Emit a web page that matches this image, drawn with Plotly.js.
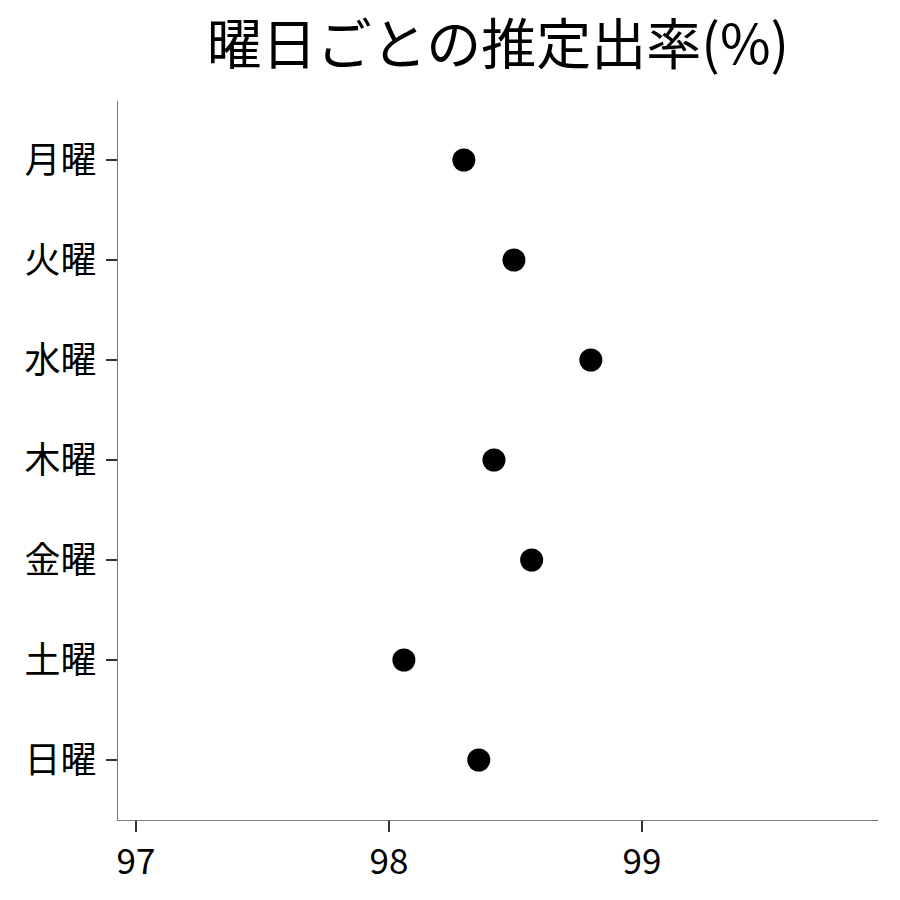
<!DOCTYPE html>
<html>
<head>
<meta charset="utf-8">
<script src="https://cdn.plot.ly/plotly-3.0.1.min.js"></script>
<style>
  html, body { margin: 0; padding: 0; background: #fff; }
  #chart { width: 900px; height: 900px; }
</style>
</head>
<body>
<div id="chart"></div>
<script>
// 曜日ごとの推定出率 (%)
const days = ['月曜', '火曜', '水曜', '木曜', '金曜', '土曜', '日曜'];
const rates = [98.296, 98.494, 98.798, 98.415, 98.564, 98.059, 98.355];
const xTicks = [97, 98, 99];

const fontFamily = '"Noto Sans CJK JP", "Noto Sans", sans-serif';

// 月曜が上に来るように並べる
const dayOrder = days.slice().reverse();

const trace = {
    x: rates,
    y: days,
    type: 'scatter',
    mode: 'markers',
    marker: { size: 23, color: '#000000' },
    hoverinfo: 'x+y'
};

const layout = {
    width: 900,
    height: 900,
    paper_bgcolor: '#ffffff',
    plot_bgcolor: '#ffffff',
    margin: { l: 118, r: 22, t: 101, b: 80 },
    showlegend: false,
    font: { family: fontFamily, color: '#000000' },
    title: {
        text: '曜日ごとの推定出率(%)',
        font: { family: fontFamily, size: 55, color: '#000000' },
        xref: 'paper',
        x: 0.5,
        xanchor: 'center',
        yref: 'container',
        y: 1 - 45 / 900,
        yanchor: 'middle'
    },
    xaxis: {
        range: [96.929, 99.933],
        tickvals: xTicks,
        ticktext: xTicks.map(String),
        showgrid: false,
        zeroline: false,
        showline: true,
        linecolor: '#7a7a7a',
        linewidth: 1.2,
        ticks: 'outside',
        ticklen: 11,
        tickwidth: 2.6,
        tickcolor: '#333333',
        tickfont: { family: fontFamily, size: 35, color: '#000000' }
    },
    yaxis: {
        type: 'category',
        categoryorder: 'array',
        categoryarray: dayOrder,
        range: [-0.6, 6.59],
        showgrid: false,
        zeroline: false,
        showline: true,
        linecolor: '#7a7a7a',
        linewidth: 1.2,
        ticks: 'outside',
        ticklen: 11,
        tickwidth: 2.6,
        tickcolor: '#333333',
        ticklabelstandoff: 2,
        tickfont: { family: fontFamily, size: 36, color: '#000000' }
    }
};

Plotly.newPlot('chart', [trace], layout, { displayModeBar: false, staticPlot: true });
</script>
</body>
</html>
